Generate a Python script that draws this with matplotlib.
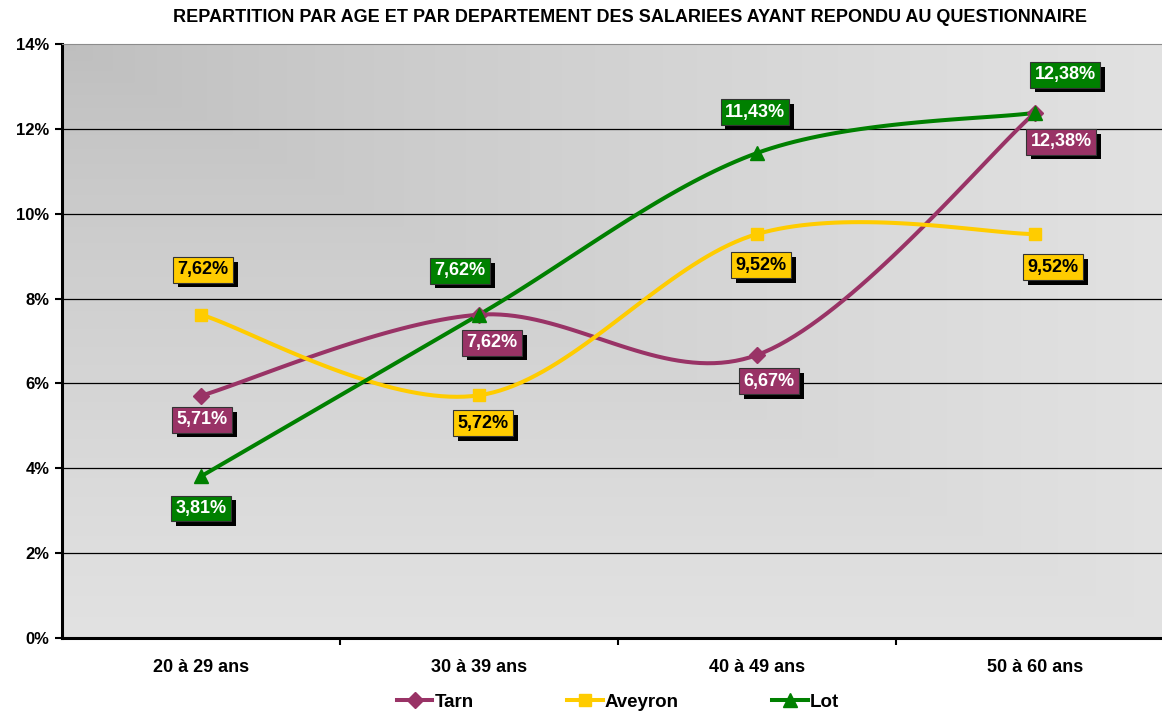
import numpy as np
import matplotlib
matplotlib.use("Agg")
import matplotlib.pyplot as plt
import matplotlib.patheffects as pe
from matplotlib.ticker import FixedLocator

plt.rcParams['font.family'] = ['Liberation Sans', 'DejaVu Sans']
plt.rcParams['font.weight'] = 'bold'

# Data
categories = ["20 à 29 ans", "30 à 39 ans", "40 à 49 ans", "50 à 60 ans"]
tarn = [5.71, 7.62, 6.67, 12.38]
aveyron = [7.62, 5.72, 9.52, 9.52]
lot = [3.81, 7.62, 11.43, 12.38]
tarn_labels = ["5,71%", "7,62%", "6,67%", "12,38%"]
aveyron_labels = ["7,62%", "5,72%", "9,52%", "9,52%"]
lot_labels = ["3,81%", "7,62%", "11,43%", "12,38%"]

title = "REPARTITION PAR AGE ET PAR DEPARTEMENT DES SALARIEES AYANT REPONDU AU QUESTIONNAIRE"

W, H = 1162, 711
fig = plt.figure(figsize=(W / 100, H / 100), dpi=100)
# plot area runs past the right edge, as in the original export
ax = fig.add_axes([62 / W, (H - 638) / H, 1112 / W, 594 / H])
ax.set_xlim(-0.5, 3.5)
ax.set_ylim(0, 14)

# corner gradient background
n = 400
u = np.linspace(0, 1, n)
U, V = np.meshgrid(u, u)  # V=0 at top row
t = np.maximum(U, V) ** 0.8
grad = 190 + 36 * t
grad = np.dstack([grad, grad, grad]) / 255.0
ax.imshow(grad, extent=[0, 1, 0, 1], transform=ax.transAxes, aspect='auto',
          zorder=0, origin='upper', interpolation='bilinear')

for yv in [2, 4, 6, 8, 10, 12]:
    ax.axhline(yv, color='black', lw=0.9, zorder=1)

ax.spines['left'].set_linewidth(2.2)
ax.spines['bottom'].set_linewidth(2.2)
ax.spines['top'].set_color('#8c8c8c')
ax.spines['top'].set_linewidth(0.8)
ax.spines['right'].set_visible(False)

ax.set_yticks(range(0, 15, 2))
ax.set_yticklabels([f"{v}%" for v in range(0, 15, 2)], fontsize=12, fontweight='bold')
ax.tick_params(axis='y', length=5, width=1.5, pad=4)

ax.set_xticks(range(4))
ax.set_xticklabels(categories, fontsize=13, fontweight='bold')
ax.tick_params(axis='x', which='major', length=0, pad=15)
ax.xaxis.set_minor_locator(FixedLocator([0.5, 1.5, 2.5]))
ax.tick_params(axis='x', which='minor', length=5, width=1.5, direction='out')


def smooth(xs, ys, steps=40):
    # Excel-like smoothed line, built in screen space
    pts = ax.transData.transform(np.column_stack([xs, ys]))
    P = np.vstack([pts[0], pts, pts[-1]])
    out = []
    for i in range(1, len(P) - 2):
        p0, p1, p2, p3 = P[i - 1], P[i], P[i + 1], P[i + 2]
        c1 = p1 + (p2 - p0) / 6
        c2 = p2 - (p3 - p1) / 6
        s = np.linspace(0, 1, steps)[:, None]
        seg = ((1 - s) ** 3) * p1 + 3 * ((1 - s) ** 2) * s * c1 + 3 * (1 - s) * s ** 2 * c2 + s ** 3 * p2
        out.append(seg if i == 1 else seg[1:])
    seg = np.vstack(out)
    d = ax.transData.inverted().transform(seg)
    return d[:, 0], d[:, 1]


x = np.arange(4)
series = [
    ("Tarn", tarn, tarn_labels, "#993366", "D", 8, "white",
     [(1, -24), (13, -28), (12, -26), (26, -29)]),
    ("Aveyron", aveyron, aveyron_labels, "#FFCC00", "s", 9, "black",
     [(2, 45), (4, -28), (4, -31), (18, -33)]),
    ("Lot", lot, lot_labels, "#008000", "^", 10, "white",
     [(0, -32), (-19, 44), (-2, 41), (30, 38)]),
]

for name, vals, labs, col, mk, ms, tcol, offs in series:
    sx, sy = smooth(x, vals)
    ax.plot(sx, sy, color=col, lw=2.9, zorder=3, solid_capstyle='round')
    ax.plot(x, vals, linestyle='none', marker=mk, color=col, ms=ms, zorder=4)
    ax.plot([], [], color=col, lw=2.9, marker=mk, ms=ms, label=name)
    for xi, yi, lab, (dx, dy) in zip(x, vals, labs, offs):
        txt = ax.annotate(lab, (xi, yi), xytext=(dx * 0.72, dy * 0.72),
                          textcoords='offset points', ha='center', va='center',
                          fontsize=13, fontweight='bold', color=tcol, zorder=6,
                          bbox=dict(boxstyle='square,pad=0.24', fc=col, ec='#333333', lw=0.8))
        txt.get_bbox_patch().set_path_effects(
            [pe.SimplePatchShadow(offset=(3.5, -3.5), shadow_rgbFace='black', alpha=1), pe.Normal()])

fig.text(630 / W, 1 - 18 / H, title, ha='center', va='center', fontsize=13, fontweight='bold')

fig.legend(loc='center', bbox_to_anchor=(618 / W, 9 / H), ncol=3, frameon=False,
           handlelength=1.9, handletextpad=0.1, columnspacing=5.0,
           prop={'weight': 'bold', 'size': 13.5})

fig.savefig("out.png", dpi=100)
plt.close(fig)
